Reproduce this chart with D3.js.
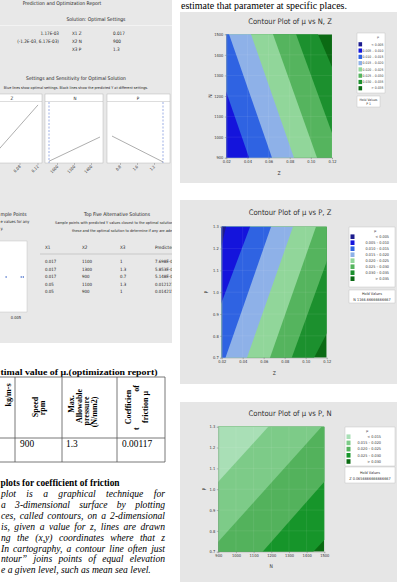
<!DOCTYPE html>
<html>
<head>
<meta charset="utf-8">
<script src="https://cdn.jsdelivr.net/npm/d3@7"></script>
<style>
  html, body { margin: 0; padding: 0; background: #fff; overflow: hidden; }
  svg { display: block; }
</style>
</head>
<body>
<div class="container"></div>
<script>
// contour levels for mu and the legend labels
const muLevels = [0.005, 0.010, 0.015, 0.020, 0.025, 0.030, 0.035];
const muLegend = ["< 0.005", "0.005 – 0.010", "0.010 – 0.015", "0.015 – 0.020",
  "0.020 – 0.025", "0.025 – 0.030", "0.030 – 0.035", "> 0.035"];
const pnLevels = [0.015, 0.020, 0.025, 0.030];
const pnLegend = ["< 0.015", "0.015 – 0.020", "0.020 – 0.025", "0.025 – 0.030", "> 0.030"];

// contour boundaries: [level, x0, y0, x1, y1]
const nzBounds = [
  [0.010, 0.0415, 900, 0.020, 1219],
  [0.015, 0.0632, 900, 0.0226, 1500],
  [0.020, 0.0840, 900, 0.0434, 1500],
  [0.025, 0.1058, 900, 0.0642, 1500],
  [0.030, 0.1200, 1020, 0.0860, 1500],
  [0.035, 0.1200, 1341, 0.1068, 1500],
];
const pzBounds = [
  [0.005, 0.0241, 1.3, 0.020, 1.216],
  [0.010, 0.0470, 1.3, 0.020, 0.955],
  [0.015, 0.0670, 1.3, 0.0236, 0.7],
  [0.020, 0.0879, 1.3, 0.0441, 0.7],
  [0.025, 0.1098, 1.3, 0.0660, 0.7],
  [0.030, 0.1200, 1.14, 0.0867, 0.7],
  [0.035, 0.1200, 0.81, 0.1080, 0.7],
];
const pnBounds = [
  [0.015, 1183, 1.3, 900, 1.036],
  [0.020, 1485, 1.3, 900, 0.748],
  [0.025, 1500, 1.036, 1151, 0.7],
  [0.030, 1500, 0.756, 1438, 0.7],
];

const zTicks = [0.02, 0.04, 0.06, 0.08, 0.10, 0.12];
const nTicks = [900, 1000, 1100, 1200, 1300, 1400, 1500];
const pTicks = [0.7, 0.8, 0.9, 1.0, 1.1, 1.2, 1.3];

// optimization report (screenshot on the left)
const optRows = [
  ["1.17E-03", "X1 Z", "0.017"],
  ["(-1.2E-03, 6.17E-03)", "X2 N", "900"],
  ["", "X3 P", "1.3"],
];
const sensZ = [[0.017, 0.0028], [0.12, 0.0256]];
const sensN = [[900, 0.0012], [1500, 0.0117]];
const sensP = [[0.7, 0.0121], [1.3, 0.0009]];
const sensZTicks = [0.08, 0.12];
const sensNTicks = [1000, 1200, 1400];
const sensPTicks = [0.8, 1.0, 1.2];
const samplePts = [0.0031, 0.0060, 0.0064];
const altHead = ["X1", "X2", "X3", "Predicted Y"];
const altRows = [
  ["0.017", "1100", "1", "7.698E-03"],
  ["0.017", "1300", "1.3", "5.853E-03"],
  ["0.017", "900", "0.7", "5.148E-03"],
  ["0.05", "1100", "1.3", "0.0121274"],
  ["0.05", "900", "1", "0.0142154"],
];

// page text
const tableHead = [["kg/m-s"], ["Speed", "rpm"], ["Max.", "Allowable", "pressure", "(N/mm2)"],
  ["Coefficien", "t|of", "friction μ"]];
const tableRow = ["", "900", "1.3", "0.00117"];
const paraLines = [
  "plot is a graphical technique for",
  "a 3-dimensional surface by plotting",
  "ces, called contours, on a 2-dimensional",
  "is, given a value for z, lines are drawn",
  "ng the (x,y) coordinates where that z",
  "In cartography, a contour line often just",
  "ntour\u201D joins points of equal elevation",
  "e a given level, such as mean sea level.",
];

const W = 397, H = 582;
const svg = d3.select(".container").append("svg")
  .attr("width", W).attr("height", H).attr("viewBox", `0 0 ${W} ${H}`);
const defs = svg.append("defs");

const narrow = "'Liberation Sans Narrow', 'DejaVu Sans Condensed', 'Liberation Sans', sans-serif";
const serif = "'Liberation Serif', 'DejaVu Serif', serif";
const muColors = ["#1c1c8e", "#1414dc", "#2f63e2", "#8eb1e8", "#91d69a", "#55b45e", "#1c902e", "#0b6a14"];
const pnColors = ["#a9dfb6", "#7dcb88", "#53b25c", "#16952a", "#0a6a12"];

// ---------- right column: gray panels ----------
svg.append("text").attr("x", 181).attr("y", 8.5)
  .style("font-family", serif).style("font-size", "10.2px")
  .attr("textLength", 166).attr("lengthAdjust", "spacingAndGlyphs")
  .text("estimate that parameter at specific places.");

[[12, 183], [200, 384], [402, 582]].forEach(([a, b]) => {
  svg.append("rect").attr("x", 180).attr("y", a).attr("width", W - 180).attr("height", b - a)
    .attr("fill", "#e6e6e6");
});

function contourPlot(cfg) {
  const g = svg.append("g");
  const x = d3.scaleLinear().domain(cfg.xDomain).range([cfg.x0, cfg.x1]);
  const y = d3.scaleLinear().domain(cfg.yDomain).range([cfg.y1, cfg.y0]);

  defs.append("clipPath").attr("id", cfg.id).append("rect")
    .attr("x", cfg.x0).attr("y", cfg.y0)
    .attr("width", cfg.x1 - cfg.x0).attr("height", cfg.y1 - cfg.y0);
  const plot = g.append("g").attr("clip-path", `url(#${cfg.id})`);

  plot.append("rect").attr("x", cfg.x0).attr("y", cfg.y0)
    .attr("width", cfg.x1 - cfg.x0).attr("height", cfg.y1 - cfg.y0)
    .attr("fill", cfg.colors[cfg.levels.length]);

  // paint the low side of each boundary, highest level first
  const bounds = cfg.bounds.slice().sort((a, b) => b[0] - a[0]);
  plot.selectAll("path.band").data(bounds).enter().append("path")
    .attr("class", "band")
    .attr("fill", (d) => cfg.colors[cfg.levels.indexOf(d[0])])
    .attr("d", (d) => {
      const p0 = [x(d[1]), y(d[2])], p1 = [x(d[3]), y(d[4])];
      const len = Math.hypot(p1[0] - p0[0], p1[1] - p0[1]);
      const u = [(p1[0] - p0[0]) / len, (p1[1] - p0[1]) / len];
      const a = [p0[0] - 400 * u[0], p0[1] - 400 * u[1]];
      const b = [p1[0] + 400 * u[0], p1[1] + 400 * u[1]];
      const o = [cfg.lowDir[0] * 1000, cfg.lowDir[1] * 1000];
      return `M${a}L${b}L${b[0] + o[0]},${b[1] + o[1]}L${a[0] + o[0]},${a[1] + o[1]}Z`;
    });

  // faint grid
  plot.selectAll("line.gx").data(cfg.xTicks).enter().append("line")
    .attr("x1", (d) => x(d)).attr("x2", (d) => x(d))
    .attr("y1", cfg.y0).attr("y2", cfg.y1)
    .attr("stroke", "#fff").attr("stroke-opacity", 0.15).attr("stroke-width", 0.5);
  plot.selectAll("line.gy").data(cfg.yTicks).enter().append("line")
    .attr("y1", (d) => y(d)).attr("y2", (d) => y(d))
    .attr("x1", cfg.x0).attr("x2", cfg.x1)
    .attr("stroke", "#fff").attr("stroke-opacity", 0.15).attr("stroke-width", 0.5);

  const xAxis = g.append("g").attr("transform", `translate(0,${cfg.y1})`)
    .call(d3.axisBottom(x).tickValues(cfg.xTicks).tickFormat(d3.format(cfg.xFmt))
      .tickSize(1.5).tickPadding(1.2));
  const yAxis = g.append("g").attr("transform", `translate(${cfg.x0},0)`)
    .call(d3.axisLeft(y).tickValues(cfg.yTicks).tickFormat(d3.format(cfg.yFmt))
      .tickSize(1.5).tickPadding(1.5));
  [xAxis, yAxis].forEach((ax) => {
    ax.selectAll("path").attr("stroke", "#999").attr("stroke-width", 0.4);
    ax.selectAll("line").attr("stroke", "#666").attr("stroke-width", 0.4);
    ax.selectAll("text").style("font-family", narrow).style("font-size", "4px").attr("fill", "#333");
  });

  g.append("text").attr("x", cfg.titleX).attr("y", cfg.titleY)
    .attr("text-anchor", "middle").style("font-family", narrow).style("font-size", "7.6px")
    .attr("fill", "#333").text(cfg.title);
  g.append("text").attr("x", (cfg.x0 + cfg.x1) / 2).attr("y", cfg.xLabelY)
    .attr("text-anchor", "middle").style("font-family", narrow).style("font-size", "5px")
    .attr("fill", "#333").text(cfg.xLabel);
  g.append("text").attr("transform", `translate(${cfg.yLabelX},${(cfg.y0 + cfg.y1) / 2}) rotate(-90)`)
    .attr("text-anchor", "middle").style("font-family", narrow).style("font-size", "5px")
    .attr("fill", "#333").text(cfg.yLabel);

  // legend
  const L = cfg.legend;
  g.append("rect").attr("x", L.x).attr("y", L.y).attr("width", L.w).attr("height", L.h)
    .attr("fill", "#fff").attr("stroke", "#bbb").attr("stroke-width", 0.4);
  g.append("text").attr("x", L.muX).attr("y", L.y + 5).attr("text-anchor", "middle")
    .style("font-family", narrow).style("font-size", L.fs + "px").attr("fill", "#333").text("μ");
  const rows = g.selectAll("g.leg").data(L.labels).enter().append("g")
    .attr("transform", (d, i) => `translate(0,${L.row0 + i * L.step})`);
  rows.append("rect").attr("x", L.x + 1.5).attr("y", -L.sw / 2 - 0.3)
    .attr("width", L.sw).attr("height", L.sw + 0.6)
    .attr("fill", (d, i) => cfg.colors[i]);
  rows.append("text").attr("x", L.labX).attr("y", L.fs * 0.35).attr("text-anchor", "end")
    .style("font-family", narrow).style("font-size", L.fs + "px").attr("fill", "#333")
    .text((d) => d);
  g.append("rect").attr("x", L.x).attr("y", L.hy).attr("width", L.hw).attr("height", L.hh)
    .attr("fill", "#fff").attr("stroke", "#bbb").attr("stroke-width", 0.4);
  g.append("text").attr("x", L.x + L.hw / 2).attr("y", L.hy + L.hh * 0.42)
    .attr("text-anchor", "middle").style("font-family", narrow).style("font-size", L.fs + "px")
    .attr("fill", "#333").text("Hold Values");
  g.append("text").attr("x", L.x + L.hw / 2).attr("y", L.hy + L.hh * 0.82)
    .attr("text-anchor", "middle").style("font-family", narrow).style("font-size", L.fs + "px")
    .attr("fill", "#333").text(L.held);
}

contourPlot({
  id: "c1", x0: 226.3, x1: 332, y0: 34.3, y1: 157.7,
  xDomain: [0.02, 0.12], yDomain: [900, 1500], xTicks: zTicks, yTicks: nTicks,
  xFmt: ".2f", yFmt: "d", levels: muLevels, colors: muColors, bounds: nzBounds, lowDir: [-1, 0],
  title: "Contour Plot of μ vs N, Z", titleX: 290, titleY: 24,
  xLabel: "Z", xLabelY: 175, yLabel: "N", yLabelX: 212,
  legend: { x: 357, y: 33, w: 28, h: 60, muX: 378, row0: 44.3, step: 6.28, sw: 3.6, fs: 3.4,
    labX: 383.5, labels: muLegend, hy: 96, hw: 23, hh: 11, held: "P  1" },
});

contourPlot({
  id: "c2", x0: 221.7, x1: 326.7, y0: 226.7, y1: 357.7,
  xDomain: [0.02, 0.12], yDomain: [0.7, 1.3], xTicks: zTicks, yTicks: pTicks,
  xFmt: ".2f", yFmt: ".1f", levels: muLevels, colors: muColors, bounds: pzBounds, lowDir: [-1, 0],
  title: "Contour Plot of μ vs P, Z", titleX: 290, titleY: 215,
  xLabel: "Z", xLabelY: 375, yLabel: "P", yLabelX: 208,
  legend: { x: 349, y: 227, w: 46, h: 60, muX: 375, row0: 236.7, step: 6.0, sw: 4, fs: 3.8,
    labX: 389, labels: muLegend, hy: 290, hw: 46, hh: 13, held: "N 1166.66666666667" },
});

contourPlot({
  id: "c3", x0: 218.3, x1: 324.3, y0: 426.7, y1: 551.7,
  xDomain: [900, 1500], yDomain: [0.7, 1.3], xTicks: nTicks, yTicks: pTicks,
  xFmt: "d", yFmt: ".1f", levels: pnLevels, colors: pnColors, bounds: pnBounds, lowDir: [-1, -1],
  title: "Contour Plot of μ vs P, N", titleX: 290, titleY: 416,
  xLabel: "N", xLabelY: 568, yLabel: "P", yLabelX: 206,
  legend: { x: 345, y: 427, w: 50, h: 39, muX: 367, row0: 436.7, step: 6.2, sw: 4, fs: 3.8,
    labX: 381, labels: pnLegend, hy: 467, hw: 50, hh: 16, held: "Z 0.0656666666666667" },
});

// ---------- left column: optimization report screenshot ----------
defs.append("clipPath").attr("id", "shot").append("rect")
  .attr("x", 0).attr("y", 0).attr("width", 172).attr("height", 343);
const shot = svg.append("g").attr("clip-path", "url(#shot)");
shot.append("rect").attr("width", 172).attr("height", 343).attr("fill", "#e8e8e8");
shot.append("line").attr("x1", 0).attr("x2", 172).attr("y1", 25.5).attr("y2", 25.5)
  .attr("stroke", "#f5f5f5").attr("stroke-width", 0.8);

function stext(x, y, t, fs, anchor, weight) {
  return shot.append("text").attr("x", x).attr("y", y).attr("text-anchor", anchor || "start")
    .style("font-family", narrow).style("font-size", fs + "px")
    .style("font-weight", weight || "normal").attr("fill", "#222").text(t);
}
stext(62, 4.8, "Prediction and Optimization Report", 5, "middle");
stext(96, 21, "Solution: Optimal Settings", 5, "middle");
optRows.forEach((r, i) => {
  const yy = [35, 42.5, 51][i];
  stext(59, yy, r[0], 4.6, "end");
  stext(72, yy, r[1], 4.6);
  stext(113, yy, r[2], 4.6);
});
stext(76, 80, "Settings and Sensitivity for Optimal Solution", 5, "middle");
stext(76, 89, "Blue lines show optimal settings. Black lines show the predicted Y at different settings.", 3.7, "middle");

const sensY = d3.scaleLinear().domain([0, 0.026]).range([164, 104]);
const sensPanels = [
  { x0: -20, x1: 42, name: "Z", cx: 12, sc: d3.scaleLinear().domain([0.02, 0.12]).range([-7, 38]),
    data: sensZ, ticks: sensZTicks, fmt: ".2f", opt: 0.017 },
  { x0: 45, x1: 103, name: "N", cx: 75, sc: d3.scaleLinear().domain([900, 1500]).range([49, 100]),
    data: sensN, ticks: sensNTicks, fmt: "d", opt: 900 },
  { x0: 107, x1: 170, name: "P", cx: 138, sc: d3.scaleLinear().domain([0.7, 1.3]).range([112, 163]),
    data: sensP, ticks: sensPTicks, fmt: ".1f", opt: 1.3 },
];
sensPanels.forEach((p) => {
  shot.append("rect").attr("x", p.x0).attr("y", 94).attr("width", p.x1 - p.x0).attr("height", 69)
    .attr("fill", "#fff").attr("stroke", "#aaa").attr("stroke-width", 0.4);
  shot.append("line").attr("x1", p.x0).attr("x2", p.x1).attr("y1", 101.5).attr("y2", 101.5)
    .attr("stroke", "#aaa").attr("stroke-width", 0.4);
  stext(p.cx, 99.8, p.name, 4.5, "middle");
  shot.append("line").attr("x1", p.sc(p.opt)).attr("x2", p.sc(p.opt)).attr("y1", 102).attr("y2", 163)
    .attr("stroke", "#3a5fc8").attr("stroke-width", 0.5).attr("stroke-dasharray", "2,1.5");
  shot.append("path").datum(p.data)
    .attr("d", d3.line().x((d) => p.sc(d[0])).y((d) => sensY(d[1])))
    .attr("fill", "none").attr("stroke", "#333").attr("stroke-width", 0.4);
  p.ticks.forEach((t) => {
    shot.append("line").attr("x1", p.sc(t)).attr("x2", p.sc(t)).attr("y1", 163).attr("y2", 165)
      .attr("stroke", "#777").attr("stroke-width", 0.4);
    shot.append("text").attr("transform", `translate(${p.sc(t) + 1},${167}) rotate(-45)`)
      .attr("text-anchor", "end").style("font-family", narrow).style("font-size", "4px")
      .attr("fill", "#333").text(d3.format(p.fmt)(t));
  });
});

// sample points (only the visible right-hand part of these lines)
stext(0.5, 215.5, "mple Points", 5);
stext(0.5, 222.5, "e values for any", 4);
stext(0.5, 230, "y.", 4);
const sampX = d3.scaleLinear().domain([0, 0.01]).range([-10, 42]);
shot.append("rect").attr("x", -30).attr("y", 241).attr("width", 57).attr("height", 71)
  .attr("fill", "#fff").attr("stroke", "#bbb").attr("stroke-width", 0.4);
shot.selectAll("circle.sp").data(samplePts).enter().append("circle")
  .attr("cx", (d) => sampX(d)).attr("cy", 277).attr("r", 0.7).attr("fill", "#1f4fbf");
stext(sampX(0.005), 318.5, "0.005", 4, "middle");

// top five alternative solutions
stext(117, 215.5, "Top Five Alternative Solutions", 5, "middle");
stext(55, 224, "Sample points with predicted Y values closest to the optimal solution. Exa", 3.8);
stext(72, 232, "these and the optimal solution to determine if any are adequate.", 3.8);
const altX = [45, 82, 120, 155];
altHead.forEach((h, i) => stext(altX[i], 249, h, 4.6));
shot.append("line").attr("x1", 40).attr("x2", 172).attr("y1", 254).attr("y2", 254)
  .attr("stroke", "#999").attr("stroke-width", 0.4);
altRows.forEach((r, j) => r.forEach((v, i) => stext(altX[i], 263 + j * 7.6, v, 4.4)));

// ---------- left column: page text below ----------
svg.append("text").attr("x", 0.5).attr("y", 375)
  .style("font-family", serif).style("font-size", "9px").style("font-weight", "bold")
  .attr("textLength", 157).attr("lengthAdjust", "spacingAndGlyphs")
  .text("timal value of μ.(optimization report)");

const tb = svg.append("g").attr("stroke", "#555").attr("stroke-width", 0.8);
[377, 438, 462].forEach((yy) => tb.append("line").attr("x1", 0).attr("x2", 165).attr("y1", yy).attr("y2", yy));
[15, 62, 117, 165].forEach((xx) => tb.append("line").attr("x1", xx).attr("x2", xx).attr("y1", 377).attr("y2", 462));

const headPos = [
  [[11, 395]],
  [[38, 407], [45, 408]],
  [[74, 404], [81.5, 406], [89, 411], [96.5, 412]],
  [[131, 407], [139, 407], [148, 407]],
];
function headText(bx, cy, t, anchor) {
  return svg.append("text").attr("transform", `translate(${bx},${cy}) rotate(-90)`)
    .attr("text-anchor", anchor).style("font-family", serif).style("font-size", "8px")
    .style("font-weight", "bold").text(t);
}
tableHead.forEach((col, ci) => col.forEach((line, li) => {
  const [bx, cy] = headPos[ci][li];
  if (line.includes("|")) {
    // justified line: first word at the bottom, last word at the top
    const [w1, w2] = line.split("|");
    headText(bx, 430, w1, "start");
    headText(bx, 385, w2, "end");
  } else {
    headText(bx, cy, line, "middle");
  }
}));
const rowX = [2, 20, 66, 122];
tableRow.forEach((v, i) => svg.append("text").attr("x", rowX[i]).attr("y", 447)
  .style("font-family", serif).style("font-size", "9.4px").text(v));

svg.append("text").attr("x", 0.5).attr("y", 486)
  .style("font-family", serif).style("font-size", "9.4px").style("font-weight", "bold")
  .text("plots for coefficient of friction");

// justified italic paragraph
paraLines.forEach((line, li) => {
  const yy = 497 + li * 10.9;
  const words = line.split(" ");
  const last = li === paraLines.length - 1;
  const ws = words.map((w) => svg.append("text").attr("y", yy)
    .style("font-family", serif).style("font-size", "9.6px").style("font-style", "italic").text(w));
  const widths = ws.map((t) => t.node().getComputedTextLength());
  const total = d3.sum(widths);
  const gap = last ? 2.4 : (165 - 1 - total) / (words.length - 1);
  let cx = 1;
  ws.forEach((t, i) => { t.attr("x", cx); cx += widths[i] + gap; });
});
</script>
</body>
</html>
